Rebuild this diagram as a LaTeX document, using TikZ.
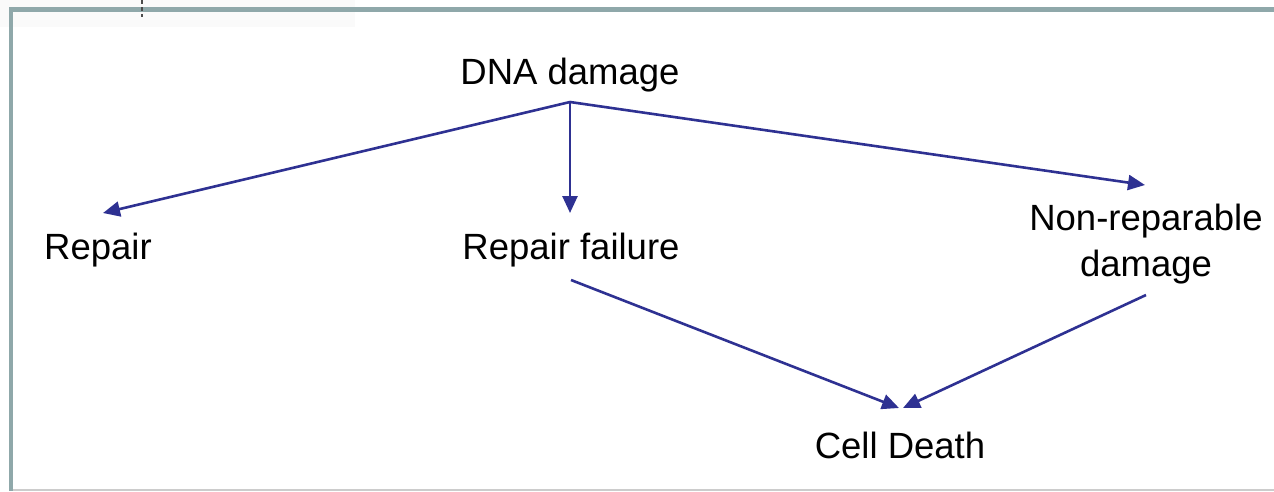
\documentclass[tikz,border=0pt]{standalone}
\usepackage{fontspec}
\setmainfont{Liberation Sans}
\usetikzlibrary{arrows.meta}
\definecolor{arrowblue}{RGB}{46,49,146}
\definecolor{frame}{RGB}{143,168,170}
\begin{document}
\begin{tikzpicture}[x=1pt,y=-1pt,
  lbl/.style={inner sep=0pt,font=\fontsize{36.5}{46}\selectfont,align=center},
  conn/.style={draw=arrowblue,line width=2.6pt,-{Triangle[length=17pt,width=15pt]}}]
\useasboundingbox (0,0) rectangle (1274,491);
\fill[black!2] (0,0) rectangle (355,27);
\draw[frame,line width=4.5pt] (1274,9.5) -- (11,9.5) -- (11,491);
\draw[black!20,line width=1.2pt] (13,490) -- (1274,490);
\draw[black!70,line width=1.5pt,dash pattern=on 4pt off 3pt] (142,0) -- (142,17);
\node[lbl] (dna) at (570,75) {DNA damage};
\node[lbl] (rep) at (98,250) {Repair};
\node[lbl] (fail) at (571,250) {Repair failure};
\node[lbl] (non) at (1146,244) {Non-reparable\\damage};
\node[lbl] (death) at (900,445) {Cell Death};
\coordinate (src) at (570,102);
\coordinate (failb) at (571,280);
\coordinate (nonb) at (1146,295);
\draw[conn] (src) -- (103,213) coordinate (repa);
\draw[conn] (src) -- (570,213) coordinate (faila);
\draw[conn] (src) -- (1145,185) coordinate (nona);
\draw[conn] (failb) -- (899,408) coordinate (da);
\draw[conn] (nonb) -- (903,408) coordinate (db);
\end{tikzpicture}
\end{document}
